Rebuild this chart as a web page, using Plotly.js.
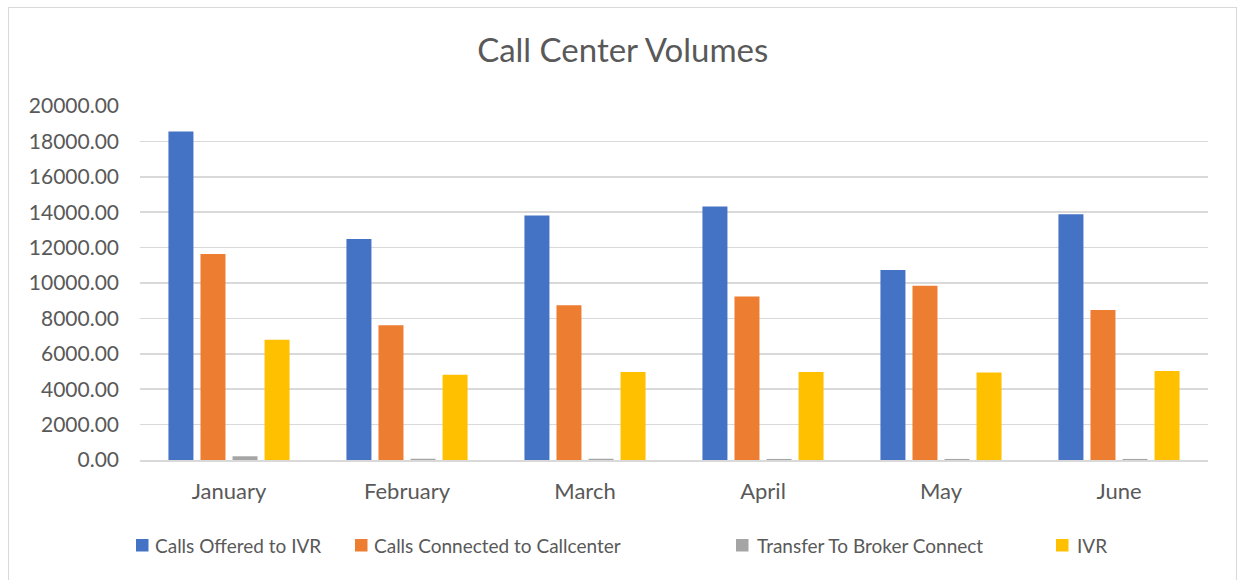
<!DOCTYPE html>
<html><head><meta charset="utf-8">
<script src="https://cdn.plot.ly/plotly-3.0.1.min.js"></script>
<style>
html,body{margin:0;padding:0;background:#fff;}
#frame{position:absolute;left:8px;top:7px;width:1229px;height:580px;border:1.5px solid #d9d9d9;box-sizing:border-box;}
#chart{position:absolute;left:0;top:0;width:1238px;height:580px;}
</style></head>
<body>
<div id="frame"></div>
<div id="chart"></div>
<script>
const months = ["January","February","March","April","May","June"];
const callsOffered = [18560, 12480, 13820, 14320, 10740, 13880];
const callsConnected = [11640, 7610, 8750, 9240, 9850, 8470];
const transferBroker = [210, 70, 70, 60, 60, 60];
const ivr = [6790, 4810, 4970, 4970, 4950, 5030];
const tickVals = [0,2000,4000,6000,8000,10000,12000,14000,16000,18000,20000];
const tickText = tickVals.map(v => v.toFixed(2));

const names = ["Calls Offered to IVR","Calls Connected to Callcenter","Transfer To Broker Connect","IVR"];
const colors = ["#4472C4","#ED7D31","#A5A5A5","#FFC000"];
const series = [callsOffered, callsConnected, transferBroker, ivr];

const data = series.map((s,i)=>({
  type:'bar', x:months, y:s, name:names[i],
  marker:{color:colors[i]}, hoverinfo:'x+y+name'
}));

// manual legend (pixel positions converted to paper coordinates)
const L = 140, R = 1208, T = 106, B = 460;
const px = x => (x - L) / (R - L);
const py = y => (B - y) / (B - T);
const legSym = [136, 355, 736, 1056];
const legText = [153, 372, 755, 1075];
const legY = 545;
const shapes = [], annotations = [];
names.forEach((n,i)=>{
  shapes.push({type:'rect', xref:'paper', yref:'paper',
    x0:px(legSym[i]), x1:px(legSym[i]+12.5), y0:py(legY+6.5), y1:py(legY-6),
    fillcolor:colors[i], line:{width:0}});
  annotations.push({xref:'paper', yref:'paper', x:px(legText[i]), y:py(legY),
    xanchor:'left', yanchor:'middle', showarrow:false, text:n,
    font:{family:"Lato, 'Open Sans', sans-serif", size:19, color:'#595959'}});
});

const font = "Lato, 'Open Sans', sans-serif";
const layout = {
  width:1238, height:580,
  paper_bgcolor:'rgba(0,0,0,0)', plot_bgcolor:'rgba(0,0,0,0)',
  margin:{l:L, r:1238-R, t:T, b:580-B},
  title:{text:"Call Center Volumes", x:0.503, xanchor:'center', y:0.913, yanchor:'middle',
    font:{family:font, size:33, color:'#595959'}},
  barmode:'group', bargap:0.28, bargroupgap:0.22,
  xaxis:{type:'category', showgrid:false, showline:true, linecolor:'#d9d9d9', linewidth:1.5,
    tickfont:{family:font, size:22, color:'#595959'}, ticks:'', ticklabelstandoff:11},
  yaxis:{range:[0,20000], tickvals:tickVals, ticktext:tickText, showgrid:true,
    gridcolor:'#d9d9d9', gridwidth:1.5, zeroline:false, showline:false,
    tickfont:{family:font, size:21, color:'#595959'}, ticks:'', ticklabelstandoff:20},
  shapes:shapes, annotations:annotations,
  showlegend:false
};
Plotly.newPlot('chart', data, layout, {displayModeBar:false, staticPlot:true});
</script>
</body></html>
